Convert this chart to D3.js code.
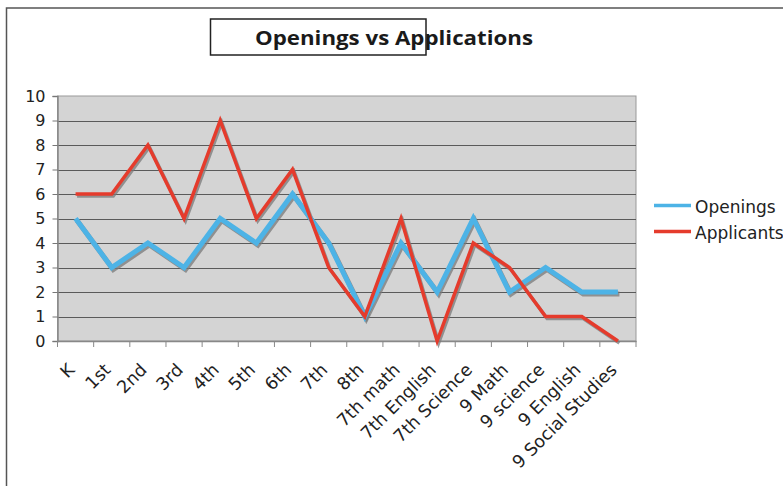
<!DOCTYPE html>
<html>
<head>
<meta charset="utf-8">
<script src="https://cdn.jsdelivr.net/npm/d3@7"></script>
<style>
  html, body { margin: 0; padding: 0; background: #fff; }
  svg { display: block; }
</style>
</head>
<body>
<svg id="chart" width="783" height="486"></svg>
<script>
const categories = ["K", "1st", "2nd", "3rd", "4th", "5th", "6th", "7th", "8th",
  "7th math", "7th English", "7th Science", "9 Math", "9 science", "9 English", "9 Social Studies"];
const openings   = [5, 3, 4, 3, 5, 4, 6, 4, 1, 4, 2, 5, 2, 3, 2, 2];
const applicants = [6, 6, 8, 5, 9, 5, 7, 3, 1, 5, 0, 4, 3, 1, 1, 0];
const yTicks = [0, 1, 2, 3, 4, 5, 6, 7, 8, 9, 10];
const seriesNames = ["Openings", "Applicants"];
const seriesColors = ["#4db3e6", "#e53b2c"];

const svg = d3.select("#chart");
const font = "'DejaVu Sans', Verdana, sans-serif";

// outer chart border
svg.append("path").attr("d", "M6.5,490 L6.5,8 L790,8")
  .attr("fill", "none").attr("stroke", "#555").attr("stroke-width", 1.5);

const plot = { left: 57.5, right: 636, top: 96, bottom: 341 };

const x = d3.scaleBand().domain(categories).range([plot.left, plot.right]).padding(0);
const y = d3.scaleLinear().domain([0, 10]).range([plot.bottom, plot.top]);

// plot background
svg.append("rect").attr("x", plot.left).attr("y", plot.top)
  .attr("width", plot.right - plot.left).attr("height", plot.bottom - plot.top)
  .attr("fill", "#d4d4d4").attr("stroke", "#999").attr("stroke-width", 1);

// gridlines
svg.append("g").selectAll("line").data(yTicks.filter(d => d > 0 && d < 10)).join("line")
  .attr("x1", plot.left).attr("x2", plot.right)
  .attr("y1", d => Math.round(y(d)) + 0.5).attr("y2", d => Math.round(y(d)) + 0.5)
  .attr("stroke", "#5a5a5a").attr("stroke-width", 1);

// y axis
const yAxis = svg.append("g").attr("transform", `translate(${plot.left},0)`)
  .call(d3.axisLeft(y).tickValues(yTicks).tickSize(5).tickPadding(7).tickFormat(d3.format("d")));
yAxis.select(".domain").attr("stroke", "#888").attr("stroke-width", 1.5);
yAxis.selectAll(".tick line").attr("stroke", "#777");
yAxis.selectAll("text").attr("font-family", font).attr("font-size", 16).attr("fill", "#222");

// x axis
const xAxis = svg.append("g").attr("transform", `translate(0,${plot.bottom})`)
  .call(d3.axisBottom(x).tickSize(0).tickFormat(""));
xAxis.select(".domain").attr("stroke", "#888").attr("stroke-width", 1.5);
// tick marks at band boundaries
const bounds = categories.map(c => x(c)).concat([plot.right]);
svg.append("g").selectAll("line").data(bounds).join("line")
  .attr("x1", d => d).attr("x2", d => d)
  .attr("y1", plot.bottom).attr("y2", plot.bottom + 6)
  .attr("stroke", "#888").attr("stroke-width", 1);

// x labels, rotated
svg.append("g").selectAll("text").data(categories).join("text")
  .attr("transform", d => `translate(${x(d) + x.bandwidth() / 2},371) rotate(-45)`)
  .attr("text-anchor", "end")
  .attr("font-family", font).attr("font-size", 17.5).attr("fill", "#222")
  .text(d => d);

// lines with shadow
const line = d3.line().x((d, i) => x(categories[i]) + x.bandwidth() / 2).y(d => y(d));
const seriesData = [openings, applicants];
const widths = [5, 3.5];
seriesData.forEach((vals, si) => {
  svg.append("path").datum(vals).attr("d", line)
    .attr("fill", "none").attr("stroke", "#7a7a7a").attr("stroke-opacity", 0.75)
    .attr("stroke-width", widths[si]).attr("stroke-linejoin", "miter")
    .attr("transform", "translate(1.5,2)");
});
seriesData.forEach((vals, si) => {
  svg.append("path").datum(vals).attr("d", line)
    .attr("fill", "none").attr("stroke", seriesColors[si])
    .attr("stroke-width", widths[si]).attr("stroke-linejoin", "miter");
});

// legend
const legend = svg.append("g");
seriesNames.forEach((name, i) => {
  const ly = 205.5 + i * 26;
  legend.append("line").attr("x1", 654).attr("x2", 691).attr("y1", ly).attr("y2", ly)
    .attr("stroke", seriesColors[i]).attr("stroke-width", 3.5);
  legend.append("text").attr("x", 695).attr("y", ly + 7)
    .attr("font-family", font).attr("font-size", 17).attr("fill", "#222").text(name);
});

// title
svg.append("text").attr("x", 255).attr("y", 44.5)
  .attr("font-family", "'Open Sans', sans-serif").attr("font-weight", 700).attr("font-size", 19.5)
  .attr("textLength", 278).attr("lengthAdjust", "spacingAndGlyphs")
  .attr("fill", "#1a1a1a").text("Openings vs Applications");
svg.append("rect").attr("x", 210.5).attr("y", 19).attr("width", 215.5).attr("height", 36)
  .attr("fill", "none").attr("stroke", "#222").attr("stroke-width", 1.5);
</script>
</body>
</html>
